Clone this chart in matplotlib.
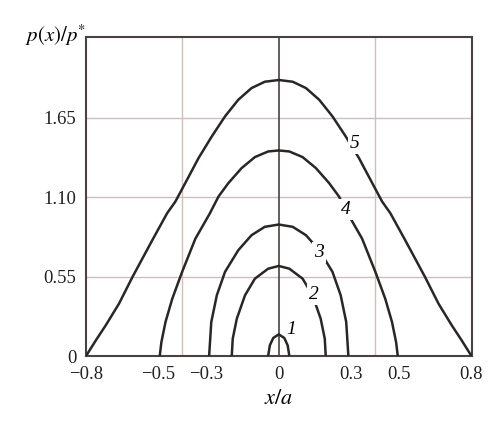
import numpy as np
import matplotlib.pyplot as plt

plt.rcParams['font.family'] = ['Liberation Serif', 'DejaVu Serif']
plt.rcParams['mathtext.fontset'] = 'stix'

# right half of each curve (x >= 0); curves are symmetric
x5 = [0.0, 0.058, 0.113, 0.168, 0.223, 0.278, 0.333, 0.388, 0.429, 0.463,
      0.525, 0.607, 0.663, 0.718, 0.759, 0.8]
y5 = [1.912, 1.900, 1.856, 1.775, 1.660, 1.521, 1.371, 1.198, 1.070, 0.990,
      0.802, 0.548, 0.363, 0.213, 0.109, 0.0]
x4 = [0.0, 0.044, 0.099, 0.154, 0.209, 0.250, 0.287, 0.346, 0.401, 0.442, 0.470, 0.487, 0.494]
y4 = [1.424, 1.417, 1.378, 1.302, 1.198, 1.105, 0.985, 0.813, 0.583, 0.397, 0.236, 0.097, 0.0]
x3 = [0.0, 0.058, 0.113, 0.168, 0.223, 0.257, 0.280, 0.289]
y3 = [0.911, 0.895, 0.837, 0.733, 0.583, 0.421, 0.236, 0.0]
x2 = [0.0, 0.044, 0.099, 0.140, 0.174, 0.191, 0.195]
y2 = [0.624, 0.605, 0.536, 0.421, 0.259, 0.120, 0.0]
x1 = [0.0, 0.023, 0.037, 0.044]
y1 = [0.150, 0.125, 0.074, 0.0]

curves = [(x1, y1), (x2, y2), (x3, y3), (x4, y4), (x5, y5)]
labels = ['1', '2', '3', '4', '5']
label_pos = [(0.05, 0.185), (0.144, 0.428), (0.168, 0.716), (0.279, 1.012), (0.316, 1.47)]

xticks = [-0.8, -0.5, -0.3, 0, 0.3, 0.5, 0.8]
xticklabels = ['\u22120.8', '\u22120.5', '\u22120.3', '0', '0.3', '0.5', '0.8']
yticks = [0, 0.55, 1.10, 1.65]
yticklabels = ['0', '0.55', '1.10', '1.65']

fig = plt.figure(figsize=(5, 4.3), dpi=100)
ax = fig.add_axes([0.172, 0.172, 0.771, 0.742])

# grid lines (not at tick positions)
for gx in [-0.4, 0.4]:
    ax.axvline(gx, color='#cdbfbb', lw=1.0, zorder=1)
for gy in [0.55, 1.10, 1.65]:
    ax.axhline(gy, color='#cdbfbb', lw=1.0, zorder=1)
ax.axvline(0, color='#4a4242', lw=1.2, zorder=2)

for (xs, ys) in curves:
    xs = np.array(xs)
    ys = np.array(ys)
    xf = np.concatenate([-xs[::-1], xs[1:]])
    yf = np.concatenate([ys[::-1], ys[1:]])
    ax.plot(xf, yf, color='#2b2626', lw=1.8, zorder=3,
            solid_joinstyle='round', solid_capstyle='butt')

for i, (lx, ly) in enumerate(label_pos):
    if i == 0:
        ax.text(lx, ly, labels[i], fontsize=14, style='italic', ha='center', va='center', zorder=5)
    else:
        ax.text(lx, ly, labels[i], fontsize=14, style='italic', ha='center', va='center', zorder=5,
                bbox=dict(boxstyle='square,pad=0.1', fc='white', ec='none'))

ax.set_xlim(-0.8, 0.8)
ax.set_ylim(0, 2.21)
ax.set_xticks(xticks)
ax.set_xticklabels(xticklabels)
ax.set_yticks(yticks)
ax.set_yticklabels(yticklabels)
ax.tick_params(length=0, labelsize=13.5, colors='#222222', pad=7)
for s in ax.spines.values():
    s.set_color('#4a4242')
    s.set_linewidth(1.5)

ax.set_xlabel(r'$x/a$', fontsize=16, labelpad=5)
fig.text(0.05, 0.918, r'$p(x)/p^{*}$', fontsize=15, ha='left', va='center')

fig.savefig('out.png', dpi=100, facecolor='white')
